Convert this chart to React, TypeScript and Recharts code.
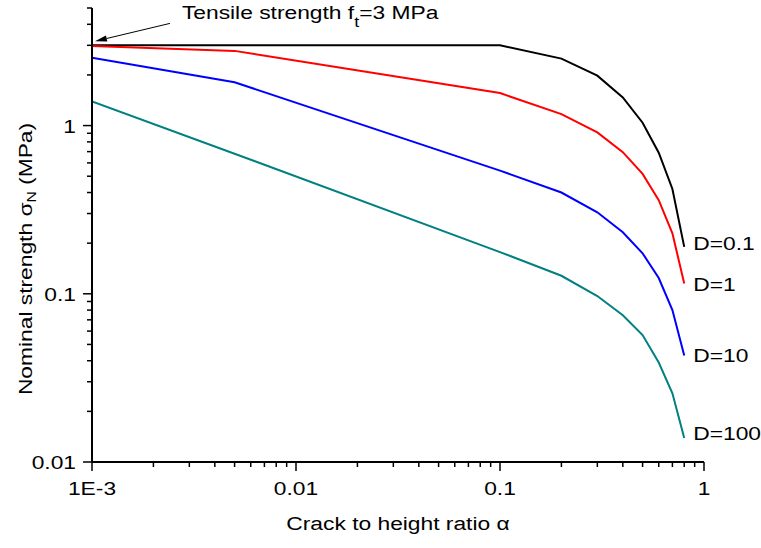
import { LineChart, Line, XAxis, YAxis, ReferenceLine, LabelList } from "recharts";

// crack to height ratio alpha
const alpha = [0.001, 0.005, 0.1, 0.2, 0.3, 0.4, 0.5, 0.6, 0.7, 0.8];
// nominal strength (MPa) for each size D
const d01 = [3.0, 3.0, 3.0, 2.5, 1.98, 1.47, 1.04, 0.69, 0.42, 0.19];
const d1 = [2.97, 2.78, 1.56, 1.17, 0.91, 0.695, 0.516, 0.36, 0.229, 0.115];
const d10 = [2.53, 1.81, 0.54, 0.4, 0.305, 0.232, 0.174, 0.124, 0.08, 0.043];
const d100 = [1.39, 0.68, 0.177, 0.128, 0.097, 0.0745, 0.0568, 0.039, 0.0256, 0.0139];

const xMajor = [0.001, 0.01, 0.1, 1];
const xMinor = [0.002, 0.003, 0.004, 0.005, 0.006, 0.007, 0.008, 0.009, 0.02, 0.03, 0.04, 0.05, 0.06, 0.07, 0.08, 0.09, 0.2, 0.3, 0.4, 0.5, 0.6, 0.7, 0.8, 0.9];
const yMajor = [0.01, 0.1, 1];
const yMinor = [0.02, 0.03, 0.04, 0.05, 0.06, 0.07, 0.08, 0.09, 0.2, 0.3, 0.4, 0.5, 0.6, 0.7, 0.8, 0.9, 2, 3, 4, 5];

const data = alpha.map((a, i) => ({ a, d01: d01[i], d1: d1[i], d10: d10[i], d100: d100[i] }));

const FONT = "'Liberation Sans', Arial, sans-serif";
const FS = 19;
const WIDE = 1.2; // the source font is wider than Arial

const fmtX = (v: number) => (v === 0.001 ? "1E-3" : String(v));

// text drawn a bit wider, like the original
function WText({ x, y, anchor = "start", rotate = 0, baseline, children }: any) {
  return (
    <text
      transform={`translate(${x} ${y}) rotate(${rotate}) scale(${WIDE} 1)`}
      x={0}
      y={0}
      textAnchor={anchor}
      dominantBaseline={baseline}
      fontSize={FS}
      fontFamily={FONT}
      fill="#000"
    >
      {children}
    </text>
  );
}

function XTick(props: any) {
  const { x, y, payload } = props;
  const major = xMajor.some((m) => Math.abs(m - payload.value) < 1e-9);
  return (
    <g>
      <line x1={x} y1={y} x2={x} y2={y + (major ? 9 : 5)} stroke="#000" strokeWidth={1.5} />
      {major && (
        <WText x={x} y={y + 33} anchor="middle">
          {fmtX(payload.value)}
        </WText>
      )}
    </g>
  );
}

function YTick(props: any) {
  const { x, y, payload } = props;
  const major = yMajor.some((m) => Math.abs(m - payload.value) < 1e-9);
  return (
    <g>
      <line x1={x} y1={y} x2={x - (major ? 9 : 5)} y2={y} stroke="#000" strokeWidth={1.5} />
      {major && (
        <WText x={x - 16} y={y + 7} anchor="end">
          {String(payload.value)}
        </WText>
      )}
    </g>
  );
}

const endLabel = (text: string, dy: number) => (props: any) => {
  const { x, y, index } = props;
  if (index !== alpha.length - 1) return null;
  return (
    <WText x={x + 9} y={y + dy + 7}>
      {text}
    </WText>
  );
};

function Arrow(props: any) {
  const { x1, y1, x2, y2 } = props;
  const dx = x2 - x1;
  const dy = y2 - y1;
  const len = Math.sqrt(dx * dx + dy * dy);
  const ux = dx / len;
  const uy = dy / len;
  const bx = x2 - ux * 12;
  const by = y2 - uy * 12;
  return (
    <g>
      <line x1={x1} y1={y1} x2={bx} y2={by} stroke="#000" strokeWidth={1} />
      <polygon points={`${x2},${y2} ${bx - uy * 3},${by + ux * 3} ${bx + uy * 3},${by - ux * 3}`} fill="#000" />
      <WText x={x1 + 12} y={y1 - 4}>
        Tensile strength f<tspan dy={8} fontSize={15}>t</tspan>
        <tspan dy={-8}>=3 MPa</tspan>
      </WText>
    </g>
  );
}

export default function App() {
  return (
    <div style={{ position: "absolute", left: 0, top: 0, background: "#fff" }}>
      <LineChart width={761} height={548} data={data} margin={{ top: 8, right: 57, left: 0, bottom: 26 }}>
        <XAxis
          dataKey="a"
          type="number"
          scale="log"
          domain={[0.001, 1]}
          allowDataOverflow
          ticks={[...xMajor, ...xMinor]}
          interval={0}
          tickSize={0}
          tickMargin={0}
          tick={<XTick />}
          height={60}
          stroke="#000"
          strokeWidth={2}
          label={{
            content: (p: any) => (
              <WText x={p.viewBox.x + p.viewBox.width / 2} y={p.viewBox.y + 68} anchor="middle">
                Crack to height ratio α
              </WText>
            ),
          }}
        />
        <YAxis
          type="number"
          scale="log"
          domain={[0.01, 5]}
          allowDataOverflow
          ticks={[...yMajor, ...yMinor]}
          interval={0}
          tickSize={0}
          tickMargin={0}
          tick={<YTick />}
          width={92}
          stroke="#000"
          strokeWidth={2}
          label={{
            content: (p: any) => (
              <WText x={25} y={p.viewBox.y + p.viewBox.height / 2 + 24} rotate={-90} anchor="middle" baseline="central">
                Nominal strength σ<tspan dy={6} fontSize={13}>N</tspan>
                <tspan dy={-6}> (MPa)</tspan>
              </WText>
            ),
          }}
        />
        <ReferenceLine
          segment={[
            { x: 0.00241, y: 4.05 },
            { x: 0.001034, y: 3.17 },
          ]}
          shape={<Arrow />}
        />
        <Line dataKey="d01" stroke="#000000" strokeWidth={2} dot={false} isAnimationActive={false}>
          <LabelList dataKey="d01" content={endLabel("D=0.1", -4)} />
        </Line>
        <Line dataKey="d1" stroke="#ff0000" strokeWidth={2} dot={false} isAnimationActive={false}>
          <LabelList dataKey="d1" content={endLabel("D=1", 0)} />
        </Line>
        <Line dataKey="d10" stroke="#0000ff" strokeWidth={2} dot={false} isAnimationActive={false}>
          <LabelList dataKey="d10" content={endLabel("D=10", 0)} />
        </Line>
        <Line dataKey="d100" stroke="#008080" strokeWidth={2} dot={false} isAnimationActive={false}>
          <LabelList dataKey="d100" content={endLabel("D=100", -5)} />
        </Line>
      </LineChart>
    </div>
  );
}
